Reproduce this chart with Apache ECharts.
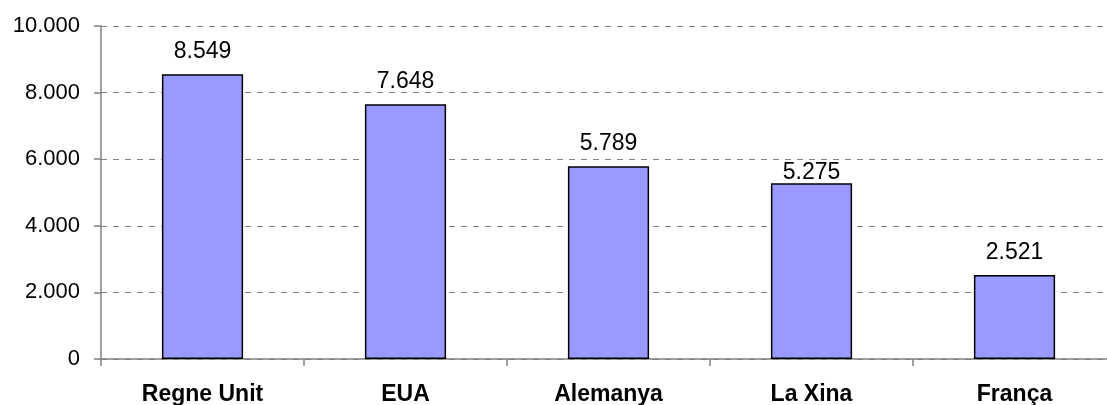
<!DOCTYPE html>
<html>
<head>
<meta charset="utf-8">
<script src="https://cdn.jsdelivr.net/npm/echarts@6/dist/echarts.min.js"></script>
<style>
  html, body { margin: 0; padding: 0; background: #fff; }
  #chart { width: 1107px; height: 405px; }
</style>
</head>
<body>
<div id="chart"></div>
<script>
// dades
const countries = ['Regne Unit', 'EUA', 'Alemanya', 'La Xina', 'França']
const values = [8549, 7648, 5789, 5275, 2521]

const fmt = v => String(v).replace(/\B(?=(\d{3})+(?!\d))/g, '.')
const font = 'Liberation Sans, Arial, sans-serif'

const chart = echarts.init(document.getElementById('chart'))
chart.setOption({
    animation: false,
    // the plot runs a little past the right edge, as in the original
    grid: { left: 101, top: 26, width: 1015, height: 333, outerBoundsMode: 'none' },
    xAxis: {
        type: 'category',
        data: countries,
        axisLine: { lineStyle: { color: '#808080', width: 1.5 } },
        axisTick: { show: true, length: 7, lineStyle: { color: '#808080', width: 1.5 } },
        axisLabel: {
            color: '#000', fontFamily: font, fontWeight: 'bold',
            fontSize: 23, margin: 24
        }
    },
    yAxis: {
        type: 'value',
        min: 0, max: 10000, interval: 2000,
        axisLine: { show: true, lineStyle: { color: '#808080', width: 1.5 } },
        axisTick: { show: true, length: 7, lineStyle: { color: '#808080', width: 1.5 } },
        splitLine: { lineStyle: { color: '#808080', type: [6, 6], width: 1 } },
        axisLabel: {
            color: '#000', fontFamily: font, fontSize: 22, margin: 21,
            formatter: fmt
        }
    },
    series: [{
        type: 'bar',
        // La Xina's label sits closer to its bar in the original
        data: values.map((v, i) => i === 3 ? { value: v, label: { distance: -1 } } : v),
        barWidth: '40%',
        itemStyle: { color: '#9999FF', borderColor: '#000', borderWidth: 1.5 },
        label: {
            show: true, position: 'top', distance: 11,
            color: '#000', fontFamily: font, fontSize: 23,
            formatter: p => fmt(p.value)
        }
    }]
})
</script>
</body>
</html>
